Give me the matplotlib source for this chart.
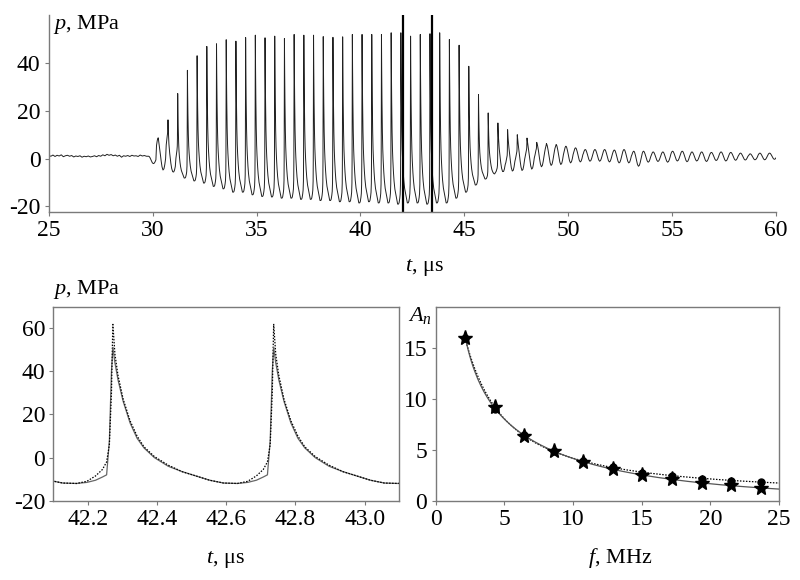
import numpy as np
import matplotlib
matplotlib.use("Agg")
import matplotlib.pyplot as plt

plt.rcParams["font.family"] = ["Liberation Serif", "DejaVu Serif"]
plt.rcParams["mathtext.fontset"] = "custom"
plt.rcParams["mathtext.rm"] = "Liberation Serif"
plt.rcParams["mathtext.it"] = "Liberation Serif:italic"
plt.rcParams["axes.unicode_minus"] = False
plt.rcParams["font.size"] = 16
plt.rcParams["xtick.labelsize"] = 17
plt.rcParams["ytick.labelsize"] = 17

# ---- top panel: pressure record, read cycle by cycle ----
period = 0.467          # us
first_peak = 30.27      # us
baseline = [1.3, 1.0, 1.5, 0.9, 1.4, 1.1, 1.6, 0.8, 1.2, 1.4,
            1.0, 1.3, 0.7, 1.1, 0.9, 1.2, 0.6, 1.0, 0.8, 1.1,
            0.7, 0.9, 1.2, 0.8, 1.3, 1.0, 1.6, 1.2, 1.8, 1.4,
            1.7, 1.2, 1.5, 1.0, 1.4, 0.6, 1.2, 1.0, 1.3, 0.9,
            1.4, 1.1, 1.2, 0.9, 1.5, 1.1, 1.3, 1.0]
baseline_dt = 0.1
peaks = [8.7, 16.2, 27.2, 36.9, 43.0, 46.9, 48.0, 49.7, 49.1, 50.6,
         51.6, 50.5, 51.2, 50.2, 51.9, 51.6, 51.6, 51.0, 50.7, 50.9,
         51.9, 51.9, 51.9, 51.9, 52.6, 52.6, 51.2, 51.9, 52.2, 52.6,
         49.8, 47.4, 38.6, 26.8, 19.1, 14.9, 12.1, 10.0, 8.6, 6.8,
         6.3, 5.9, 5.2, 4.5, 3.8, 3.8, 3.8, 3.6, 3.8, 3.1,
         3.1, 2.8, 2.8, 3.1, 3.1, 2.8, 2.8, 2.6, 2.8, 2.6,
         2.3, 2.0, 2.3, 2.3]
# trough that follows the baseline and each peak
troughs = [-2.1, -5.0, -6.4, -8.1, -9.3, -10.2, -11.6, -12.6, -14.0, -14.0,
           -15.1, -15.8, -16.0, -16.5, -16.5, -17.0, -17.0, -17.5, -17.5, -18.0,
           -18.0, -18.5, -18.0, -18.5, -18.5, -19.0, -18.5, -18.5, -19.0, -18.5,
           -18.5, -16.5, -14.0, -11.0, -8.5, -7.0, -6.2, -5.7, -5.3, -4.6,
           -3.5, -2.9, -2.5, -1.8, -1.4, -1.1, -1.1, -1.4, -1.8, -1.8,
           -3.2, -1.5, -1.2, -1.5, -1.0, -1.3, -1.0, -1.2, -0.8, -1.0,
           -0.7, -0.6, -0.5, -0.5, -0.3]

# one-period shapes (fraction of period, 0 = trough, 1 = peak)
shape_phase = [0.0, 0.0086, 0.024, 0.054, 0.095, 0.135, 0.176, 0.239, 0.297, 0.383,
               0.484, 0.583, 0.667, 0.753, 0.817, 0.882, 0.925, 0.957, 0.972, 0.985, 0.994]
shock_u = [1.0, 0.905, 0.794, 0.603, 0.421, 0.317, 0.254, 0.183, 0.135, 0.087,
           0.056, 0.024, 0.0, 0.0, 0.008, 0.032, 0.056, 0.111, 0.238, 0.587, 0.905]
smooth_u = [1.0, 0.999, 0.989, 0.972, 0.914, 0.830, 0.724, 0.534, 0.354, 0.128,
            0.003, 0.068, 0.25, 0.509, 0.705, 0.870, 0.946, 0.982, 0.992, 0.998, 1.0]
split = 0.753

cut_lines = [42.05, 43.42]

# ---- bottom left: two periods, measured vs model ----
pulse_peaks = [41.807, 42.272, 42.737]
pulse_dt = [0.0, 0.006, 0.015, 0.03, 0.05, 0.07, 0.09, 0.12, 0.16, 0.2,
            0.24, 0.28, 0.32, 0.36, 0.39, 0.415, 0.435, 0.447, 0.455, 0.461, 0.465]
meas_p = [51, 44, 36, 26, 16, 9, 4.5, 0, -4, -6.5,
          -8.5, -10.5, -11.8, -12, -11.5, -10.5, -9, -8, 8, 40, 51]
model_p = [62, 48, 38, 27, 17, 10, 5, 0.5, -3.5, -6.5,
           -8.5, -10.5, -11.8, -12, -11, -8.5, -5.5, -2, 6, 30, 62]

# ---- bottom right: harmonic amplitudes ----
freq = [2.15, 4.3, 6.45, 8.6, 10.75, 12.9, 15.05, 17.2, 19.35, 21.5, 23.65]
amp_meas = [15.95, 9.17, 6.36, 4.82, 3.8, 3.08, 2.49, 2.1, 1.77, 1.51, 1.22]
amp_model = [15.95, 8.98, 6.4, 4.9, 3.9, 3.28, 2.75, 2.43, 2.16, 1.97, 1.87]


def build_record():
    t = list(25 + baseline_dt * np.arange(len(baseline)))
    p = list(baseline)
    levels = [baseline[-1]] + peaks
    for k, top in enumerate(levels):
        low = troughs[k]
        nxt = levels[k + 1] if k + 1 < len(levels) else top
        w = np.clip((top - low - 8) / 20, 0, 1)
        t0 = first_peak + (k - 1) * period
        for ph, us, uo in zip(shape_phase, shock_u, smooth_u):
            u = w * us + (1 - w) * uo
            hi = top if ph <= split else nxt
            tk = t0 + ph * period
            if k == 0 and tk < t[-1] + 0.02:
                continue
            if tk > 60.1:
                break
            t.append(tk)
            p.append(low + u * (hi - low))
    return np.array(t), np.array(p)


fig = plt.figure(figsize=(8, 5.8), dpi=100)
spine_col = "#7a7a7a"

ax1 = fig.add_axes([0.061, 0.6345, 0.909, 0.3395])
tr, pr = build_record()
ax1.plot(tr, pr, color="#202020", lw=0.7)
for x in cut_lines:
    ax1.axvline(x, color="black", lw=1.6)
ax1.set_xlim(25, 60)
ax1.set_ylim(-22.3, 60)
ax1.set_xticks(range(25, 61, 5))
ax1.set_yticks([-20, 0, 20, 40])
for s in ["top", "right"]:
    ax1.spines[s].set_visible(False)
fig.text(0.53, 1 - 268 / 580, "$t$, μs", ha="center", va="center")
fig.text(0.066, 1 - 25 / 580, "$p$, MPa", ha="left", va="center")

ax2 = fig.add_axes([0.0667, 0.1367, 0.4323, 0.3345])
for tp in pulse_peaks:
    ax2.plot(tp + np.array(pulse_dt), meas_p, color="#666666", lw=0.9)
    ax2.plot(tp + np.array(pulse_dt), model_p, color="black", lw=0.9, ls=(0, (1.2, 1.2)))
ax2.set_xlim(42.1, 43.1)
ax2.set_ylim(-20, 70)
ax2.set_xticks([42.2, 42.4, 42.6, 42.8, 43.0])
ax2.set_xticklabels(["42.2", "42.4", "42.6", "42.8", "43.0"])
ax2.set_yticks([-20, 0, 20, 40, 60])
fig.text(0.282, 1 - 559 / 580, "$t$, μs", ha="center", va="center")
fig.text(0.066, 1 - 289 / 580, "$p$, MPa", ha="left", va="center")

ax3 = fig.add_axes([0.5446, 0.1367, 0.4294, 0.3345])
f_line = np.linspace(freq[0], 25, 200)
cm = np.polyfit(np.log(freq), np.log(amp_meas), 3)
cd = np.polyfit(np.log(freq), np.log(amp_model), 3)
ax3.plot(f_line, np.exp(np.polyval(cd, np.log(f_line))), color="black", lw=0.9, ls=(0, (1.2, 1.2)))
ax3.plot(f_line, np.exp(np.polyval(cm, np.log(f_line))), color="#555555", lw=0.9)
ax3.plot(freq, amp_model, "o", color="black", ms=5)
ax3.plot(freq, amp_meas, "*", color="black", ms=11)
ax3.set_xlim(0, 25)
ax3.set_ylim(0, 19)
ax3.set_xticks(range(0, 26, 5))
ax3.set_yticks([0, 5, 10, 15])
fig.text(0.775, 1 - 558 / 580, "$f$, MHz", ha="center", va="center")
fig.text(0.51, 1 - 316 / 580, "$A_n$", ha="left", va="center")

for ax in (ax1, ax2, ax3):
    for s in ax.spines.values():
        s.set_color(spine_col)
        s.set_linewidth(1.0)
    ax.tick_params(direction="out", length=3, width=0.8, color=spine_col, pad=3)

fig.savefig("out.png", dpi=100)
